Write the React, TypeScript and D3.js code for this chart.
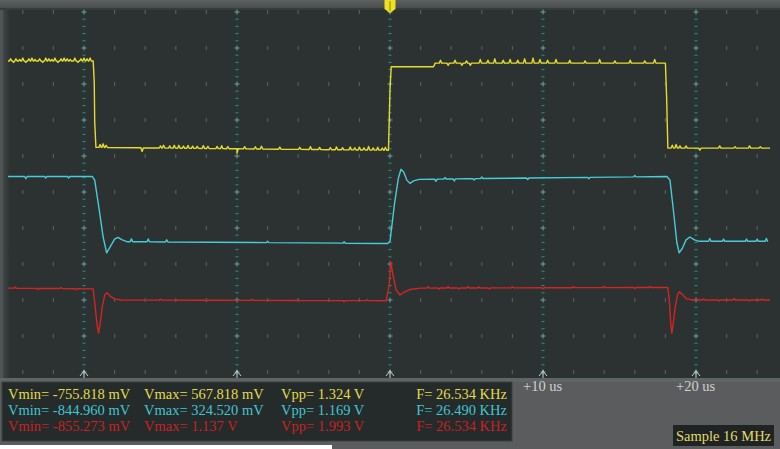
import React from 'react';
import * as d3 from 'd3';

const W = 780;
const H = 449;

// time axis (microseconds)
const majorTimes = [-20, -10, 0, 10, 20];
const gridTimes = d3.range(-24, 24.01, 2);
const gridRows = d3.range(0, 11);
const timeLabelTicks = [10, 20];
const timeLabelTexts = ['+10 us', '+20 us'];

// channel settings
const channelNames = ['CH1', 'CH2', 'CH3'];
const channelColors = ['#e6dc2e', '#48ccd6', '#d42424'];
const textColors = ['#e4dc48', '#42c6d0', '#c82222'];
const voltsPerDiv = [0.5, 0.5, 1.0];
const zeroDiv = [2.36, 5.01, 8.07];

// measurements
const measVmin = ['-755.818 mV', '-844.960 mV', '-855.273 mV'];
const measVmax = ['567.818 mV', '324.520 mV', '1.137 V'];
const measVpp = ['1.324 V', '1.169 V', '1.993 V'];
const measFreq = ['26.534 KHz', '26.490 KHz', '26.534 KHz'];

// trace key points [time us, volts]
const yellowKeys: [number, number][] = [
  [-24.97, 0.5], [-19.4, 0.5], [-19.33, 0.2], [-19.3, -0.35], [-19.22, -0.7],
  [-10.0, -0.72], [-0.1, -0.74], [0.0, 0.1], [0.08, 0.42], [2.85, 0.42],
  [2.95, 0.47], [18.0, 0.47], [18.08, 0.0], [18.16, -0.71], [24.84, -0.71],
];
const yellowNoise: [number, number][] = [
  [-24.8, 0.03], [-24.6, -0.02], [-24.45, 0.03], [-24.2, 0.02], [-24.0, 0.04], [-23.8, -0.02],
  [-23.6, 0.03], [-23.4, 0.04], [-23.2, 0.02], [-22.9, 0.03], [-22.7, -0.02], [-22.5, 0.04],
  [-22.3, 0.03], [-22.1, 0.02], [-21.9, 0.04], [-21.7, -0.02], [-21.5, 0.03], [-21.3, 0.04],
  [-21.1, 0.03], [-20.9, 0.02], [-20.6, 0.04], [-20.4, -0.02], [-20.2, 0.03], [-20.0, 0.04],
  [-19.8, 0.03], [-19.6, 0.04],
  [-18.95, 0.04], [-18.75, 0.05], [-18.55, 0.03], [-16.2, -0.05], [-15.0, 0.03], [-14.8, 0.04],
  [-14.4, 0.03], [-14.1, 0.04], [-13.8, 0.04], [-13.5, 0.03], [-13.2, 0.04], [-12.9, 0.03],
  [-12.6, 0.03], [-12.2, 0.04], [-11.9, 0.03], [-11.3, 0.03], [-11.0, 0.04], [-10.6, 0.03],
  [-10.0, -0.06], [-9.5, 0.03], [-8.8, 0.03], [-8.4, 0.04], [-7.2, 0.03], [-5.9, 0.03],
  [-5.2, 0.04], [-4.6, 0.03], [-3.9, 0.03], [-3.5, 0.04], [-3.1, 0.03], [-2.6, 0.04],
  [-2.3, 0.03], [-2.0, 0.04], [-1.7, 0.03], [-1.4, 0.05], [-1.1, 0.03], [-0.8, 0.04],
  [-0.5, 0.03], [-0.3, 0.04],
  [3.3, 0.04], [3.8, -0.03], [4.25, 0.04], [4.7, -0.03], [5.0, 0.03], [5.25, -0.03],
  [5.9, 0.05], [6.4, 0.04], [6.85, 0.06], [7.4, 0.04], [7.85, 0.05], [8.35, 0.04],
  [8.8, 0.06], [9.35, 0.07], [9.8, 0.05], [10.3, 0.04], [10.85, 0.05], [11.75, 0.04],
  [12.75, 0.03], [13.7, 0.05], [14.7, 0.03], [15.7, 0.04], [16.65, 0.03], [17.3, 0.05],
  [18.45, 0.04], [18.7, 0.05], [18.95, 0.03], [19.35, 0.03], [20.25, -0.03], [21.55, 0.03],
  [22.55, 0.02], [23.5, 0.03], [24.2, 0.02],
];

const cyanKeys: [number, number][] = [
  [-24.97, 0.22], [-19.45, 0.22], [-19.3, 0.17], [-19.0, -0.25], [-18.75, -0.62],
  [-18.52, -0.84], [-18.3, -0.76], [-18.0, -0.65], [-17.78, -0.625], [-17.5, -0.66],
  [-17.2, -0.685], [-0.15, -0.71], [0.0, -0.68], [0.3, -0.15], [0.55, 0.2], [0.72, 0.32],
  [0.9, 0.28], [1.1, 0.17], [1.3, 0.125], [1.55, 0.16], [1.9, 0.18], [5.0, 0.19],
  [18.1, 0.22], [18.3, 0.17], [18.55, -0.3], [18.75, -0.7], [18.9, -0.84], [19.1, -0.78],
  [19.35, -0.66], [19.6, -0.62], [19.9, -0.66], [20.2, -0.68], [24.71, -0.68],
];
const cyanNoise: [number, number][] = [
  [-23.8, -0.03], [-22.5, -0.02], [-21.0, -0.02], [-16.9, 0.04], [-15.8, 0.04], [-14.6, 0.03],
  [-8.0, 0.02], [-3.0, 0.02], [3.0, -0.03], [3.6, 0.02], [4.2, -0.03], [5.5, -0.02],
  [6.0, 0.02], [9.0, -0.02], [13.0, -0.02], [16.0, 0.02], [20.9, 0.04], [21.8, 0.03],
  [23.3, 0.03], [24.0, 0.03], [24.6, 0.04],
];

const redKeys: [number, number][] = [
  [-24.97, 0.4], [-19.4, 0.38], [-19.3, 0.0], [-19.15, -0.6], [-19.05, -0.85],
  [-18.95, -0.6], [-18.8, -0.1], [-18.65, 0.2], [-18.5, 0.275], [-18.3, 0.18],
  [-18.0, 0.1], [-17.6, 0.07], [-0.25, 0.05], [-0.05, 0.5], [0.05, 1.136], [0.2, 0.75],
  [0.4, 0.35], [0.65, 0.21], [0.9, 0.28], [1.3, 0.36], [2.0, 0.4], [18.15, 0.42],
  [18.25, 0.1], [18.35, -0.6], [18.42, -0.85], [18.52, -0.55], [18.65, -0.1],
  [18.8, 0.22], [18.92, 0.3], [19.1, 0.22], [19.4, 0.1], [19.8, 0.07], [24.84, 0.07],
];
const redNoise: [number, number][] = [
  [-24.5, 0.03], [-23.0, -0.03], [-21.5, 0.03], [-20.5, -0.03], [-15.0, 0.03], [-12.0, -0.03],
  [-9.0, 0.03], [-6.0, 0.03], [-3.0, -0.03], [-1.5, 0.03], [2.5, 0.04], [3.2, -0.03],
  [3.8, 0.04], [4.5, -0.03], [5.1, 0.04], [5.8, 0.03], [6.5, -0.03], [8.0, 0.03],
  [10.0, -0.03], [12.0, 0.03], [14.0, 0.04], [16.0, -0.03], [17.0, 0.03], [20.5, 0.03],
  [21.5, -0.03], [22.5, 0.04], [23.5, -0.03], [24.3, 0.03],
];

const traceKeys = [yellowKeys, cyanKeys, redKeys];
const traceNoise = [yellowNoise, cyanNoise, redNoise];

const x = d3.scaleLinear().domain([-20, 20]).range([84, 696]);
const yDiv = d3.scaleLinear().domain([0, 10]).range([12, 372]);

function buildTrace(keys: [number, number][], noise: [number, number][]) {
  const hw = 0.08;
  const base = d3
    .scaleLinear()
    .domain(keys.map((k) => k[0]))
    .range(keys.map((k) => k[1]))
    .clamp(true);
  const pts: [number, number][] = keys.map((k) => [k[0], k[1]]);
  noise.forEach(([t, dv]) => {
    pts.push([t - hw, base(t - hw)], [t, base(t) + dv], [t + hw, base(t + hw)]);
  });
  pts.sort((a, b) => a[0] - b[0]);
  return pts;
}

const FONT = "'Liberation Serif', 'Times New Roman', serif";

export default function App() {
  const traces = traceKeys.map((keys, i) => {
    const pts = buildTrace(keys, traceNoise[i]);
    const line = d3
      .line<[number, number]>()
      .x((d) => x(d[0]))
      .y((d) => yDiv(zeroDiv[i] - d[1] / voltsPerDiv[i]));
    return line(pts) || '';
  });

  const rowY = gridRows.map((r) => yDiv(r));
  const isMajor = (t: number) => majorTimes.includes(t);

  return (
    <svg
      width={W}
      height={H}
      viewBox={`0 0 ${W} ${H}`}
      style={{ position: 'absolute', left: 0, top: 0, display: 'block' }}
    >
      <defs>
        <linearGradient id="leftEdge" x1="0" x2="1" y1="0" y2="0">
          <stop offset="0" stopColor="#4a4e4f" />
          <stop offset="1" stopColor="#2c3132" />
        </linearGradient>
        <linearGradient id="topEdge" x1="0" x2="0" y1="0" y2="1">
          <stop offset="0" stopColor="#5d6162" />
          <stop offset="1" stopColor="#4a4e4f" />
        </linearGradient>
      </defs>
      {/* outer */}
      <rect x={0} y={0} width={W} height={H} fill="#5a5c5d" />
      {/* plot area */}
      <rect x={0} y={0} width={W} height={378} fill="#2c3132" />
      <rect x={0} y={8} width={10} height={370} fill="url(#leftEdge)" />
      <rect x={0} y={8} width={3} height={370} fill="#505455" />
      <rect x={0} y={0} width={W} height={8} fill="url(#topEdge)" />
      <rect x={0} y={8} width={W} height={2} fill="#363b3c" />
      {/* bottom band */}
      <rect x={0} y={378} width={W} height={4} fill="#606465" />

      {/* grid */}
      {gridTimes.map((t) => {
        const cx = x(t);
        if (isMajor(t)) {
          return (
            <g key={`c${t}`}>
              <rect x={cx - 2} y={10} width={4} height={368} fill="#1f3a37" opacity={0.6} />
              {rowY.map((yy, ri) => (
                <g key={ri}>
                  <line x1={cx - 2.5} x2={cx + 2.5} y1={yy} y2={yy} stroke="#78a09a" strokeWidth={1} />
                  <line x1={cx} x2={cx} y1={yy - 2.5} y2={yy + 2.5} stroke="#78a09a" strokeWidth={1} />
                  {ri < rowY.length - 1 &&
                    [1, 2, 3, 4].map((k) => (
                      <line
                        key={k}
                        x1={cx - 1.5}
                        x2={cx + 1.5}
                        y1={yy + k * 7.2}
                        y2={yy + k * 7.2}
                        stroke="#57807a"
                        strokeWidth={1}
                      />
                    ))}
                </g>
              ))}
              <path
                d={`M${cx},370 L${cx},378 M${cx - 4},376 L${cx},371 L${cx + 4},376`}
                stroke="#c4cccc"
                strokeWidth={1}
                fill="none"
              />
            </g>
          );
        }
        return (
          <g key={`c${t}`}>
            {rowY.map((yy, ri) => (
              <rect key={ri} x={cx - 0.6} y={yy - 2} width={1.2} height={4} fill="#75807f" opacity={0.55} />
            ))}
          </g>
        );
      })}

      {/* traces */}
      {traces.map((d, i) => (
        <path
          key={channelNames[i]}
          d={d}
          fill="none"
          stroke={channelColors[i]}
          strokeWidth={1.4}
          strokeLinejoin="round"
        />
      ))}

      {/* trigger marker */}
      <polygon
        points={`${x(0) - 5.5},0 ${x(0) + 5.5},0 ${x(0) + 5.5},9 ${x(0)},13 ${x(0) - 5.5},9`}
        fill="#efe21e"
      />
      <line x1={x(0)} x2={x(0)} y1={1} y2={11} stroke="#8a8420" strokeWidth={1} />

      {/* time labels */}
      {timeLabelTicks.map((t, i) => (
        <text
          key={t}
          x={x(t) - 20}
          y={391}
          fontFamily={FONT}
          fontSize={14.5}
          fill="#cfd2d2"
        >
          {timeLabelTexts[i]}
        </text>
      ))}

      {/* measurement panel */}
      <rect x={0} y={445} width={332} height={4} fill="#ffffff" />
      <rect x={2} y={382} width={510} height={59} fill="#252a2b" stroke="#3b4041" strokeWidth={1} />
      {channelNames.map((c, i) => {
        const by = 399 + i * 15.8;
        return (
          <g key={c} fontFamily={FONT} fontSize={14.5} fill={textColors[i]}>
            <text x={8} y={by}>{`Vmin= ${measVmin[i]}`}</text>
            <text x={144} y={by}>{`Vmax= ${measVmax[i]}`}</text>
            <text x={281} y={by}>{`Vpp= ${measVpp[i]}`}</text>
            <text x={507} y={by} textAnchor="end">{`F= ${measFreq[i]}`}</text>
          </g>
        );
      })}

      {/* sample box */}
      <rect x={673} y={425} width={101} height={21} fill="#1f2324" />
      <text x={676} y={441} fontFamily={FONT} fontSize={14.5} fill="#e2dc6a">
        Sample 16 MHz
      </text>
    </svg>
  );
}
